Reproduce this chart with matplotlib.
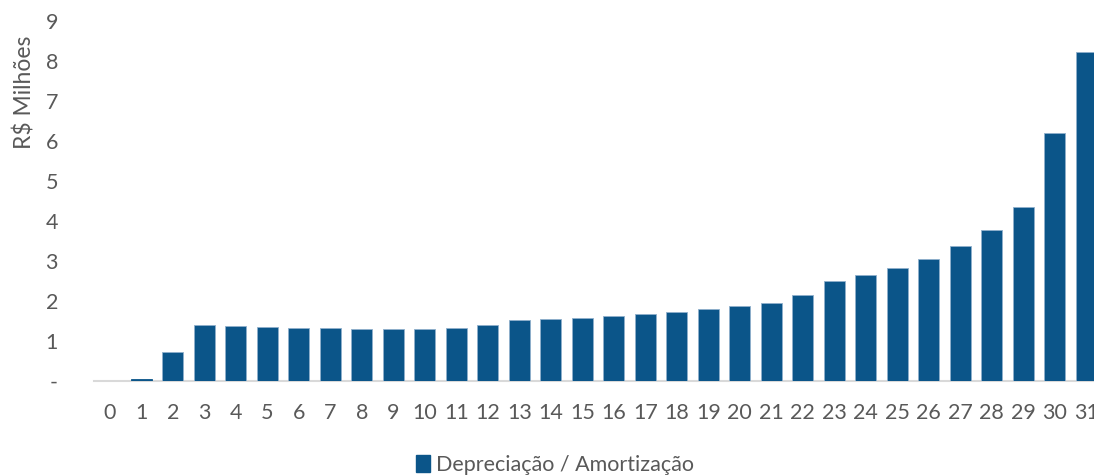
import matplotlib.pyplot as plt
from matplotlib.patches import Patch

# anos do projeto
anos = list(range(0, 32))
# depreciacao / amortizacao em R$ milhoes
valores = [0.0, 0.06, 0.73, 1.40, 1.37, 1.35, 1.33, 1.32, 1.31, 1.30,
           1.30, 1.32, 1.40, 1.52, 1.54, 1.57, 1.63, 1.68, 1.73, 1.80,
           1.87, 1.95, 2.15, 2.50, 2.65, 2.83, 3.05, 3.37, 3.77, 4.35,
           6.20, 8.23]
ytick_vals = [0, 1, 2, 3, 4, 5, 6, 7, 8, 9]
ytick_labels = ['-', '1', '2', '3', '4', '5', '6', '7', '8', '9']

cor = '#0B5589'
cinza = '#595959'
plt.rcParams['font.family'] = ['Lato', 'DejaVu Sans']

W, H = 1094, 476
fig = plt.figure(figsize=(W / 100, H / 100), dpi=100)
ax = fig.add_axes([94 / W, 95 / H, 1008 / W, 360 / H])

# barras com valor zero ficam sem contorno
bordas = ['#8fb0cc' if v > 0.1 else cor for v in valores]
larg = [0.6 if v > 0 else 0 for v in valores]
ax.bar(anos, valores, width=0.67, color=cor, edgecolor=bordas, linewidth=larg)
ax.set_xlim(-0.5, 31.5)
ax.set_ylim(0, 9)
ax.set_xticks(anos)
ax.set_xticklabels([str(a) for a in anos])
ax.set_yticks(ytick_vals)
ax.set_yticklabels(ytick_labels)

for s in ['top', 'right', 'left']:
    ax.spines[s].set_visible(False)
ax.spines['bottom'].set_color('#d9d9d9')
ax.spines['bottom'].set_linewidth(1.5)
ax.spines['bottom'].set_zorder(0)
ax.tick_params(axis='both', length=0, colors=cinza, labelsize=15.5)
ax.tick_params(axis='x', pad=16)
ax.tick_params(axis='y', pad=26)

fig.text(25 / W, 1 - 92 / H, 'R$ Milhões', rotation=90, ha='center', va='center',
         fontsize=16.5, color=cinza)

fig.legend(handles=[Patch(color=cor, label='Depreciação / Amortização')],
           loc='center', bbox_to_anchor=(555 / W, 1 - 465 / H), frameon=False,
           fontsize=15.5, labelcolor=cinza, handlelength=0.65, handleheight=0.85,
           handletextpad=0.3)

fig.savefig('out.png', dpi=100)
